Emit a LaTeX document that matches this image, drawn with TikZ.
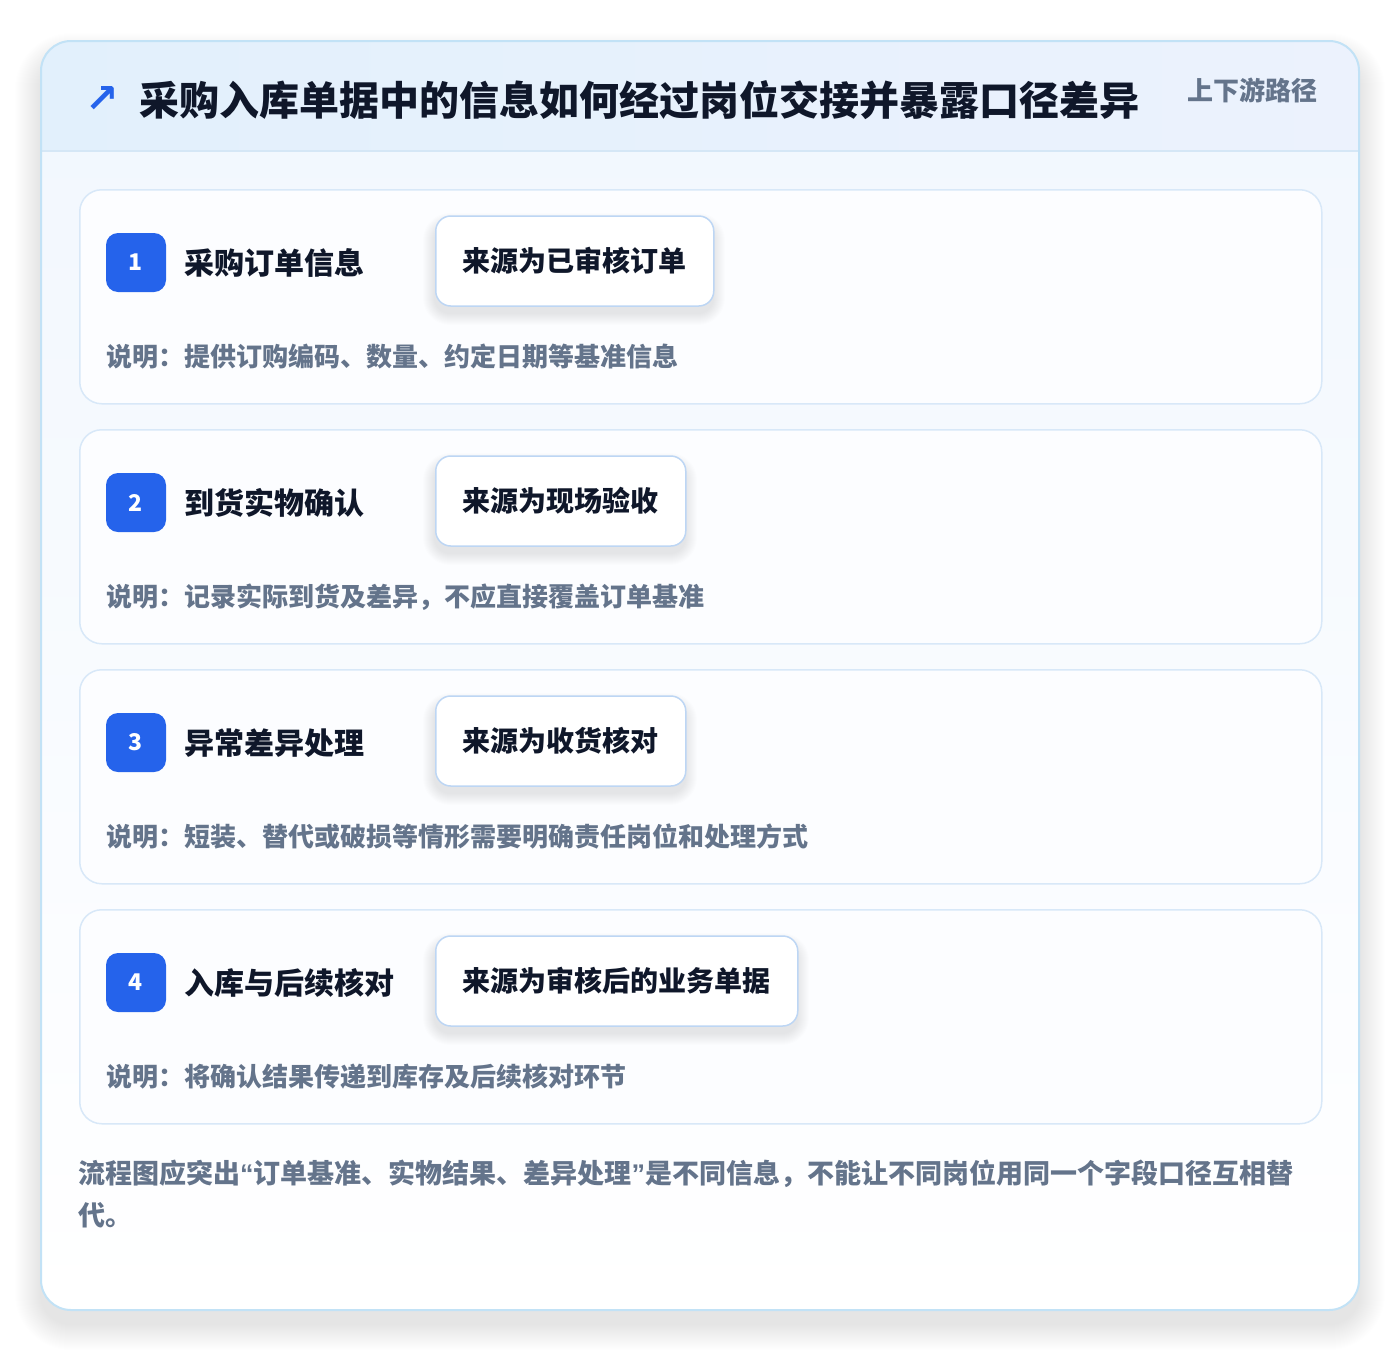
\documentclass[tikz,border=0pt]{standalone}
\usepackage{fontspec}
\setmainfont{Noto Sans CJK SC}
\newfontfamily\symfont{DejaVu Sans}
\newfontfamily\qfont{Liberation Sans}
\definecolor{outerb}{HTML}{C2E2F6}
\definecolor{hdrL}{HTML}{E2F0FC}
\definecolor{hdrR}{HTML}{ECF2FD}
\definecolor{hdrline}{HTML}{D5E7F6}
\definecolor{bodytop}{HTML}{F1F7FE}
\definecolor{cardb}{HTML}{D8E8F8}
\definecolor{cardf}{HTML}{FCFDFF}
\definecolor{pillb}{HTML}{BDD6F4}
\definecolor{badgec}{HTML}{2563EB}
\definecolor{titlec}{HTML}{0F172A}
\definecolor{grayc}{HTML}{64748B}
\tikzset{
  card/.style={draw=cardb, line width=1.5pt, fill=cardf, rounded corners=22pt, inner sep=0pt, anchor=north west},
  badgebox/.style={fill=badgec, rounded corners=12pt, minimum width=60pt, minimum height=59pt, inner sep=0pt, text=white, font=\bfseries\fontsize{23}{26}\selectfont},
  steplabel/.style={anchor=west, inner sep=0pt, text=titlec, font=\bfseries\fontsize{30}{36}\selectfont},
  pill/.style={draw=pillb, line width=1.5pt, fill=white, rounded corners=15pt, minimum height=90pt, inner sep=0pt, anchor=west, text=titlec, font=\bfseries\fontsize{28}{34}\selectfont},
  desc/.style={anchor=west, inner sep=0pt, text=grayc, font=\bfseries\fontsize{26}{30}\selectfont},
}
\begin{document}
\begin{tikzpicture}[x=1pt,y=-1pt]
\useasboundingbox (0,0) rectangle (1400,1352);
\fill[white] (0,0) rectangle (1400,1352);
% outer shadow
\foreach \i in {1,...,26} {
  \fill[black, opacity=0.0045, rounded corners=30+\i] (41-\i,41-\i+18) rectangle (1359+\i,1310+\i+14);
}
% outer card body
\fill[top color=bodytop, bottom color=white, rounded corners=30pt] (41,41) rectangle (1359,1310);
\begin{scope}
  \clip[rounded corners=30pt] (41,41) rectangle (1359,1310);
  \fill[left color=hdrL, right color=hdrR] (41,41) rectangle (1359,151);
\end{scope}
\draw[hdrline, line width=1.5pt] (41,151) -- (1359,151);
\draw[outerb, line width=2pt, rounded corners=30pt] (41,41) rectangle (1359,1310);
% header
\node[text=badgec, inner sep=0pt, font=\symfont\bfseries\fontsize{40}{44}\selectfont] (icon) at (102,99) {↗};
\node[anchor=west, inner sep=0pt, text=titlec, font=\bfseries\fontsize{40}{46}\selectfont] (title) at (139,100) {采购入库单据中的信息如何经过岗位交接并暴露口径差异};
\node[anchor=east, inner sep=0pt, text=grayc, font=\bfseries\fontsize{26}{30}\selectfont] (tag) at (1318,90) {上下游路径};
% steps
\foreach \n/\lab/\src/\pw/\dsc [count=\k] in {
  1/采购订单信息/来源为已审核订单/278/说明：提供订购编码、数量、约定日期等基准信息,
  2/到货实物确认/来源为现场验收/250/说明：记录实际到货及差异，不应直接覆盖订单基准,
  3/异常差异处理/来源为收货核对/250/说明：短装、替代或破损等情形需要明确责任岗位和处理方式,
  4/入库与后续核对/来源为审核后的业务单据/362/说明：将确认结果传递到库存及后续核对环节} {
  \pgfmathsetmacro{\yz}{189+240*(\k-1)}
  \node[card, minimum width=1242pt, minimum height=214pt] (card\n) at (79,\yz) {};
  \node[badgebox] (badge\n) at (136,\yz+73.5) {\n};
  \node[steplabel] (label\n) at (184,\yz+74) {\lab};
  \foreach \j in {1,...,12} {
    \fill[black, opacity=0.006, rounded corners=15+\j] (435-\j,\yz+28-\j+8) rectangle (435+\pw+\j,\yz+118+\j+6);
  }
  \node[pill, minimum width=\pw pt] (pill\n) at (435,\yz+72) {\src};
  \node[desc] (desc\n) at (106,\yz+168) {\dsc};
}
% footer
\node[anchor=north west, inner sep=0pt, align=left, text=grayc, font=\bfseries\fontsize{27}{42}\selectfont] (note) at (78,1160) {流程图应突出{\qfont\bfseries “}订单基准、实物结果、差异处理{\qfont\bfseries ”}是不同信息，不能让不同岗位用同一个字段口径互相替\\代。};
\end{tikzpicture}
\end{document}
